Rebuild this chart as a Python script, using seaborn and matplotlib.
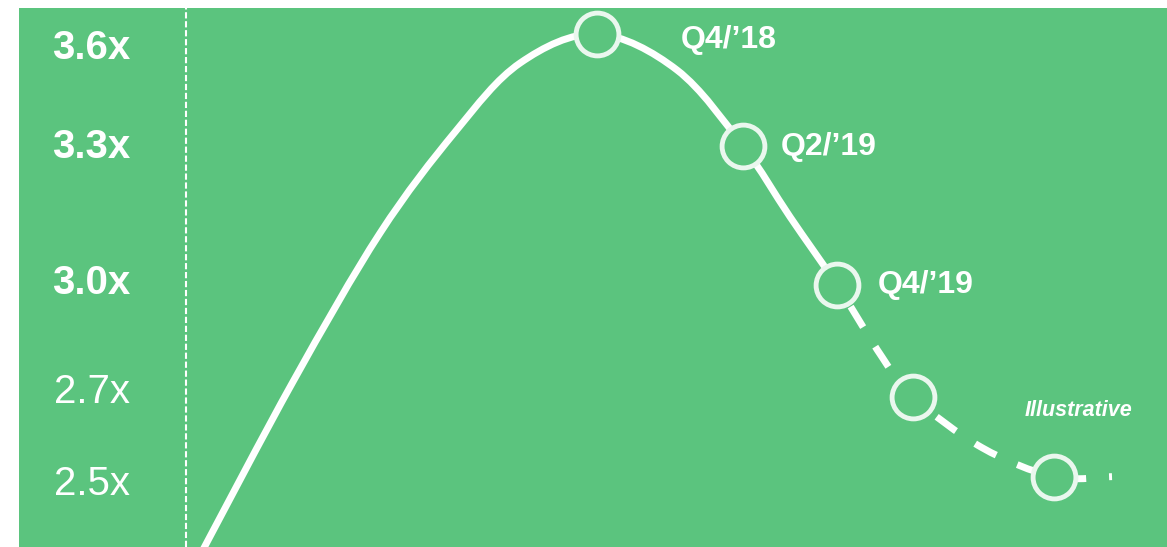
import numpy as np
import matplotlib
matplotlib.use("Agg")
import matplotlib.pyplot as plt
from matplotlib.path import Path
from matplotlib.patches import PathPatch
import seaborn as sns

GREEN = '#5BC47E'
RING = '#EAF7EE'

# leverage multiples shown on the left (non-linear axis in the original)
tick_values = [2.5, 2.7, 3.0, 3.3, 3.6]
tick_labels = ['2.5x', '2.7x', '3.0x', '3.3x', '3.6x']
tick_bold = [False, False, True, True, True]

# where each multiple sits on the vertical axis (relative position units)
scale_values = [2.1, 2.5, 2.7, 3.0, 3.3, 3.6, 3.9]
scale_positions = [-664, -480, -388, -279, -143, -44, 55]

# curve: timeline position / leverage multiple
curve_x = [203, 293, 380, 455, 520, 597, 677, 743, 790, 837,
           882, 913, 982, 1054, 1112]
curve_y = [2.348, 2.717, 3.101, 3.333, 3.542, 3.630, 3.521, 3.293, 3.137,
           2.983, 2.785, 2.680, 2.570, 2.507, 2.507]
n_actual = 10  # first 10 points are actuals (solid), rest projected (dashed)

# milestones
point_x = [597, 743, 837, 913, 1054]
point_y = [3.630, 3.293, 2.983, 2.680, 2.507]
point_labels = ['Q4/’18', 'Q2/’19', 'Q4/’19', '', '']
label_offsets = [(60, -4), (27, -1), (29, 0), (0, 0), (0, 0)]

DIVIDER_X = 186


def fwd(v):
    return np.interp(v, scale_values, scale_positions)


def inv(t):
    return np.interp(t, scale_positions, scale_values)


def smooth_segments(xs, ys):
    # catmull-rom -> cubic bezier, worked out in scaled space
    p = np.column_stack([xs, fwd(np.asarray(ys))]).astype(float)
    p = np.vstack([p[0], p, p[-1]])
    segs = []
    for i in range(1, len(p) - 2):
        c1 = p[i] + (p[i + 1] - p[i - 1]) / 6
        c2 = p[i + 1] - (p[i + 2] - p[i]) / 6
        segs.append((p[i], c1, c2, p[i + 1]))
    return segs


def seg_path(segs):
    verts, codes = [], []
    for k, (a, c1, c2, b) in enumerate(segs):
        if k == 0:
            verts.append(a)
            codes.append(Path.MOVETO)
        verts += [c1, c2, b]
        codes += [Path.CURVE4] * 3
    verts = np.array(verts)
    verts[:, 1] = inv(verts[:, 1])
    return Path(verts, codes)


plt.rcParams['font.family'] = ['Liberation Sans', 'DejaVu Sans']

fig = plt.figure(figsize=(11.67, 5.47), dpi=100)
ax = fig.add_axes([19 / 1167, 0, 1148 / 1167, 539 / 547])
ax.set_facecolor(GREEN)
ax.set_yscale('function', functions=(fwd, inv))

segs = smooth_segments(curve_x, curve_y)
ax.add_patch(PathPatch(seg_path(segs[:n_actual - 1]), fill=False,
                       edgecolor='white', lw=5, capstyle='butt', zorder=2))
ax.add_patch(PathPatch(seg_path(segs[n_actual - 1:]), fill=False,
                       edgecolor='white', lw=5, capstyle='butt',
                       linestyle=(3.1, (3.46, 3.31)), zorder=2))
ax.axvline(DIVIDER_X, color='white', lw=1.5, linestyle=(0, (3.0, 1.3)), zorder=1)

sns.scatterplot(x=point_x, y=point_y, s=950, color=GREEN, edgecolor=RING,
                linewidth=3.5, ax=ax, zorder=3)

for x, y, lab, off in zip(point_x, point_y, point_labels, label_offsets):
    if lab:
        ax.annotate(lab, (x, y), xytext=off, textcoords='offset points',
                    ha='left', va='center', color='white',
                    fontsize=23, fontweight='bold')

ax.text(0.923, 0.254, 'Illustrative', transform=ax.transAxes, ha='center',
        va='center', color='white', fontsize=15.5, fontweight='bold',
        fontstyle='italic')

ax.set_xlim(19, 1167)
ax.set_ylim(2.354, 3.709)
ax.set_xticks([])
ax.set_yticks(tick_values)
ax.set_yticklabels(tick_labels)
ax.tick_params(axis='y', length=0, pad=-80, labelsize=29, labelcolor='white')
for t, b in zip(ax.get_yticklabels(), tick_bold):
    t.set_fontweight('bold' if b else 'normal')
    t.set_zorder(4)
for s in ax.spines.values():
    s.set_visible(False)
ax.set_xlabel('')
ax.set_ylabel('')

fig.savefig('out.png', dpi=100, facecolor='white')
